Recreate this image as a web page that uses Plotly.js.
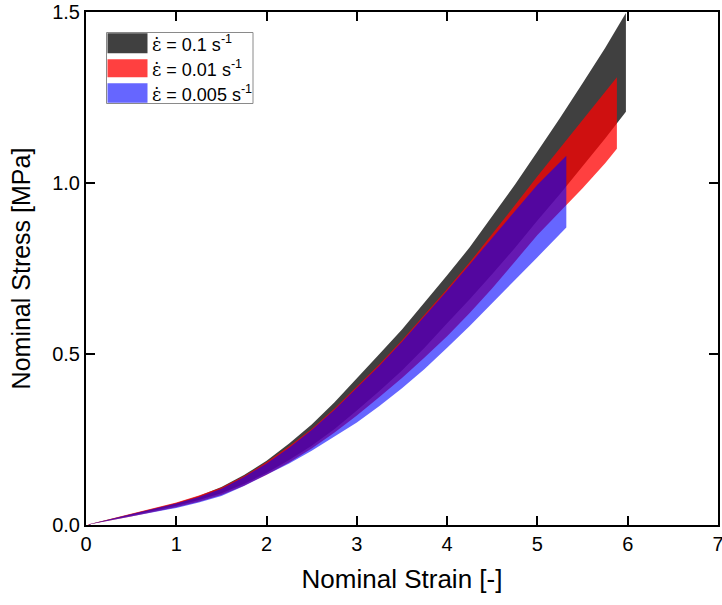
<!DOCTYPE html>
<html>
<head>
<meta charset="utf-8">
<script src="https://cdn.plot.ly/plotly-3.0.1.min.js"></script>
<style>html,body{margin:0;padding:0;background:#fff;}#chart{width:722px;height:605px;}</style>
</head>
<body>
<div id="chart"></div>
<script>
// Strain rate 0.1 s^-1 (black band)
const strain0 = [0, 0.5, 1, 1.25, 1.5, 1.75, 2, 2.25, 2.5, 2.75, 3, 3.25, 3.5, 3.75, 4, 4.25, 4.5, 4.75, 5, 5.25, 5.5, 5.75, 5.98];
const upper0  = [0, 0.031, 0.064, 0.085, 0.111, 0.146, 0.188, 0.238, 0.294, 0.358, 0.428, 0.500, 0.572, 0.650, 0.730, 0.812, 0.902, 0.995, 1.092, 1.190, 1.292, 1.395, 1.497];
const lower0  = [0, 0.027, 0.056, 0.073, 0.093, 0.120, 0.152, 0.190, 0.232, 0.280, 0.335, 0.392, 0.452, 0.518, 0.590, 0.660, 0.734, 0.810, 0.890, 0.968, 1.048, 1.130, 1.208];
// Strain rate 0.01 s^-1 (red band)
const strain1 = [0, 0.5, 1, 1.25, 1.5, 1.75, 2, 2.25, 2.5, 2.75, 3, 3.25, 3.5, 3.75, 4, 4.25, 4.5, 4.75, 5, 5.25, 5.5, 5.75, 5.88];
const upper1  = [0, 0.032, 0.066, 0.086, 0.110, 0.143, 0.184, 0.230, 0.281, 0.340, 0.404, 0.470, 0.540, 0.614, 0.690, 0.768, 0.850, 0.935, 1.020, 1.102, 1.183, 1.265, 1.309];
const lower1  = [0, 0.025, 0.052, 0.068, 0.088, 0.115, 0.147, 0.183, 0.224, 0.270, 0.320, 0.374, 0.430, 0.490, 0.552, 0.620, 0.692, 0.770, 0.848, 0.915, 0.985, 1.058, 1.100];
// Strain rate 0.005 s^-1 (blue band)
const strain2 = [0, 0.5, 1, 1.25, 1.5, 1.75, 2, 2.25, 2.5, 2.75, 3, 3.25, 3.5, 3.75, 4, 4.25, 4.5, 4.75, 5, 5.32];
const upper2  = [0, 0.031, 0.063, 0.082, 0.106, 0.140, 0.180, 0.226, 0.278, 0.336, 0.400, 0.466, 0.536, 0.609, 0.685, 0.762, 0.840, 0.918, 0.995, 1.080];
const lower2  = [0, 0.024, 0.050, 0.066, 0.085, 0.114, 0.146, 0.180, 0.217, 0.258, 0.300, 0.348, 0.400, 0.456, 0.518, 0.582, 0.648, 0.715, 0.783, 0.870];

const epsDot = '<span style="font-family:\'DejaVu Serif\'">ε̇</span>';
const seriesNames = [epsDot + ' = 0.1 s<sup>-1</sup>', epsDot + ' = 0.01 s<sup>-1</sup>', epsDot + ' = 0.005 s<sup>-1</sup>'];
const colors = ['rgba(0,0,0,0.75)', 'rgba(255,0,0,0.75)', 'rgba(0,0,255,0.6)'];
const xTicks = [0, 1, 2, 3, 4, 5, 6, 7];
const yTicks = [0, 0.5, 1.0, 1.5];
const yTickText = ['0.0', '0.5', '1.0', '1.5'];

function band(x, up, lo, color, name) {
  return {
    x: x.concat(x.slice().reverse()),
    y: up.concat(lo.slice().reverse()),
    type: 'scatter', mode: 'lines', fill: 'toself',
    fillcolor: color, line: {width: 0, color: color},
    name: name, hoverinfo: 'skip', showlegend: false
  };
}

const data = [
  band(strain0, upper0, lower0, colors[0], seriesNames[0]),
  band(strain1, upper1, lower1, colors[1], seriesNames[1]),
  band(strain2, upper2, lower2, colors[2], seriesNames[2])
];

// custom legend (paper coords)
const px = v => (v - 86) / 632;
const py = v => (525 - v) / 513;
const swY = [[33.3, 53.3], [59.3, 77.3], [83.3, 102.7]];
const legendColors = ['#404040', '#ff4040', '#6666ff'];
const shapes = [{
  type: 'rect', xref: 'paper', yref: 'paper',
  x0: px(106.5), x1: px(253), y0: py(103.5), y1: py(32.5),
  line: {color: '#8a8a8a', width: 1}, fillcolor: 'white', layer: 'above'
}];
const annotations = [];
for (let i = 0; i < 3; i++) {
  shapes.push({
    type: 'rect', xref: 'paper', yref: 'paper',
    x0: px(107.5), x1: px(147.5), y0: py(swY[i][1]), y1: py(swY[i][0]),
    line: {width: 0}, fillcolor: legendColors[i], layer: 'above'
  });
  annotations.push({
    xref: 'paper', yref: 'paper', x: px(150), y: py((swY[i][0] + swY[i][1]) / 2),
    xanchor: 'left', yanchor: 'middle', showarrow: false,
    text: seriesNames[i],
    font: {family: 'Liberation Sans, Arial, sans-serif', size: 18, color: '#000'}
  });
}

const axisCommon = {
  showgrid: false, zeroline: false, showline: true, linecolor: '#000', linewidth: 2,
  mirror: 'ticks', ticks: 'inside', ticklen: 9, tickwidth: 2, tickcolor: '#000',
  ticklabeloverflow: 'allow',
  tickfont: {family: 'Liberation Sans, Arial, sans-serif', size: 20, color: '#000'}
};

const layout = {
  width: 722, height: 605,
  margin: {l: 86, r: 4, t: 12, b: 80},
  paper_bgcolor: 'white', plot_bgcolor: 'white',
  showlegend: false,
  xaxis: Object.assign({}, axisCommon, {
    range: [0, 7], tickvals: xTicks, ticktext: xTicks.map(String),
    title: {text: 'Nominal Strain [-]', font: {family: 'Liberation Sans, Arial, sans-serif', size: 26, color: '#000'}, standoff: 16}
  }),
  yaxis: Object.assign({}, axisCommon, {
    range: [0, 1.5], tickvals: yTicks, ticktext: yTickText,
    title: {text: 'Nominal Stress [MPa]', font: {family: 'Liberation Sans, Arial, sans-serif', size: 25, color: '#000'}, standoff: 14}
  }),
  shapes: shapes,
  annotations: annotations
};

Plotly.newPlot('chart', data, layout, {displayModeBar: false, staticPlot: true});
</script>
</body>
</html>
